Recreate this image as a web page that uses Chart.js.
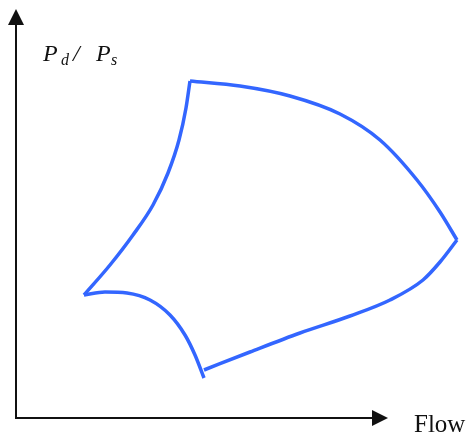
<!DOCTYPE html>
<html>
<head>
<meta charset="utf-8">
<script src="https://cdn.jsdelivr.net/npm/chart.js@4/dist/chart.umd.min.js"></script>
<style>
  html, body { margin: 0; padding: 0; background: #fff; }
  #wrap { width: 469px; height: 434px; }
</style>
</head>
<body>
<div id="wrap"><canvas id="mapChart" width="469" height="434"></canvas></div>
<script>
// operating envelope, in flow / pressure-ratio units (origin = axes corner)
const leftEdgeFlow = [68, 94, 117, 137, 152, 163, 170, 174];
const leftEdgePr = [123, 153, 183, 213, 245, 278, 310, 337];

const topEdgeFlow = [174, 224, 274, 324, 364, 401, 424, 441];
const topEdgePr = [337, 332, 322, 304, 278, 238, 206, 178];

const rightEdgeFlow = [188, 234, 284, 334, 374, 407, 424, 441];
const rightEdgePr = [48, 66, 85, 102, 118, 138, 156, 178];

const surgeEdgeFlow = [68, 89, 111, 134, 154, 169, 179, 188];
const surgeEdgePr = [123, 126, 125, 118, 103, 83, 63, 40];

const xLabel = 'Flow';

const lineColor = '#3366ff';

function toPoints(xs, ys) {
    return xs.map((x, i) => ({ x: x, y: ys[i] }));
}

function edge(xs, ys) {
    return {
        data: toPoints(xs, ys),
        showLine: true,
        borderColor: lineColor,
        borderWidth: 3.5,
        pointRadius: 0,
        cubicInterpolationMode: 'monotone',
        fill: false,
    };
}

// axes with arrow heads + labels
const axesPlugin = {
    id: 'axesArrows',
    afterDatasetsDraw(chart) {
        const ctx = chart.ctx;
        const xs = chart.scales.x;
        const ys = chart.scales.y;
        const ox = xs.getPixelForValue(0);
        const oy = ys.getPixelForValue(0);
        const xEnd = xs.getPixelForValue(372);
        const yEnd = ys.getPixelForValue(409);

        ctx.save();
        ctx.strokeStyle = '#111';
        ctx.fillStyle = '#111';
        ctx.lineWidth = 2;
        ctx.beginPath();
        ctx.moveTo(ox, yEnd + 14);
        ctx.lineTo(ox, oy);
        ctx.lineTo(xEnd - 14, oy);
        ctx.stroke();

        // vertical arrow
        ctx.beginPath();
        ctx.moveTo(ox, yEnd);
        ctx.lineTo(ox - 8, yEnd + 16);
        ctx.lineTo(ox + 8, yEnd + 16);
        ctx.closePath();
        ctx.fill();

        // horizontal arrow
        ctx.beginPath();
        ctx.moveTo(xEnd, oy);
        ctx.lineTo(xEnd - 16, oy - 8);
        ctx.lineTo(xEnd - 16, oy + 8);
        ctx.closePath();
        ctx.fill();

        // labels
        ctx.textBaseline = 'alphabetic';
        ctx.textAlign = 'left';
        ctx.font = '25px "Liberation Serif", "Times New Roman", serif';
        ctx.fillText(xLabel, 414, 432);

        ctx.font = 'italic 24px "Liberation Serif", "Times New Roman", serif';
        ctx.fillText('P', 43, 61);
        ctx.fillText('/', 73, 61);
        ctx.fillText('P', 96, 61);
        ctx.font = 'italic 16px "Liberation Serif", "Times New Roman", serif';
        ctx.fillText('d', 61, 65);
        ctx.fillText('s', 111, 65);
        ctx.restore();
    },
};

const mapCanvas = document.querySelector('#mapChart');

if (mapCanvas && typeof Chart !== 'undefined') {
    const mapChart = new Chart(mapCanvas, {
        type: 'scatter',
        data: {
            datasets: [
                edge(leftEdgeFlow, leftEdgePr),
                edge(topEdgeFlow, topEdgePr),
                edge(rightEdgeFlow, rightEdgePr),
                edge(surgeEdgeFlow, surgeEdgePr),
            ],
        },
        options: {
            responsive: false,
            animation: false,
            layout: { padding: 0 },
            scales: {
                x: { type: 'linear', min: -16, max: 453, display: false },
                y: { type: 'linear', min: -16, max: 418, display: false },
            },
            plugins: {
                legend: { display: false },
                tooltip: { enabled: false },
            },
        },
        plugins: [axesPlugin],
    });
}
</script>
</body>
</html>
